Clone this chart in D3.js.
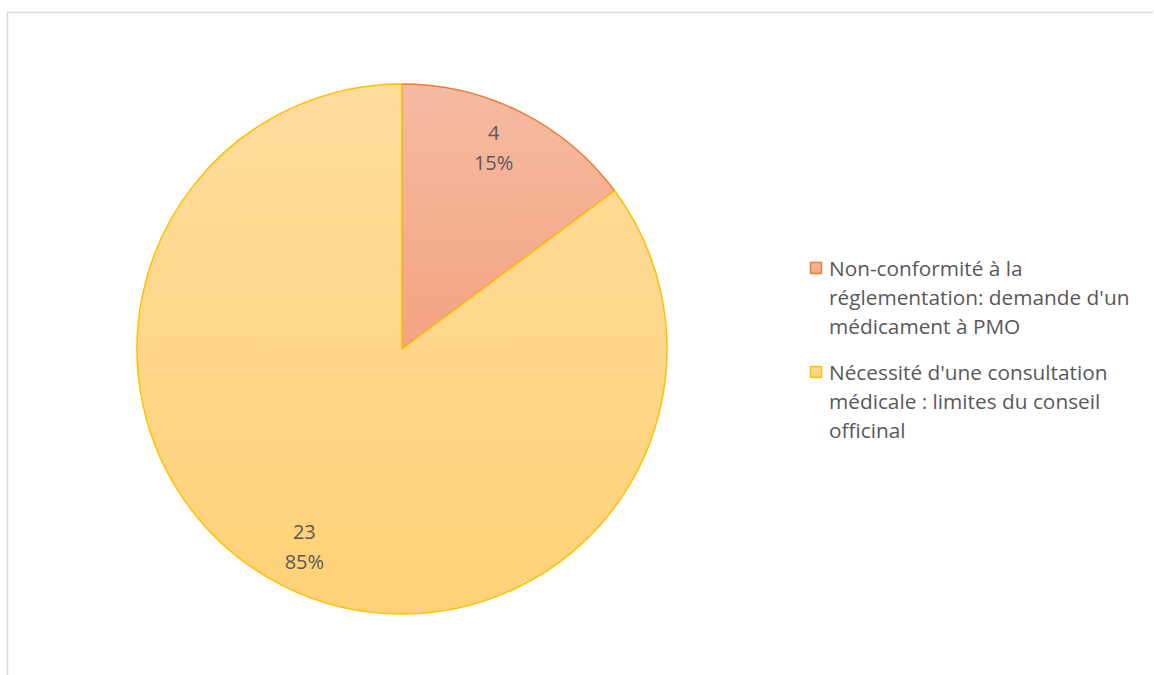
<!DOCTYPE html>
<html><head><meta charset="utf-8">
<script src="https://cdn.jsdelivr.net/npm/d3@7"></script>
<style>body{margin:0;background:#fff}svg{display:block}</style>
</head><body>
<svg id="c" width="1154" height="675"></svg>
<script>
const categories = ["Non-conformité à la réglementation: demande d'un médicament à PMO", "Nécessité d'une consultation médicale : limites du conseil officinal"];
const values = [4, 23];
const legendLines = [["Non-conformité à la", "réglementation: demande d'un", "médicament à PMO"], ["Nécessité d'une consultation", "médicale : limites du conseil", "officinal"]];
const strokes = ["#ed7d31", "#ffc000"];
const gradTop = ["#f5bba2", "#fedc9c"];
const gradBot = ["#f4a381", "#fed277"];

const svg = d3.select("#c");
const font = "'Open Sans', sans-serif";
// frame
svg.append("path").attr("d", "M7.5,675 V12.5 H1153").attr("fill", "none").attr("stroke", "#d9d9d9").attr("stroke-width", 1.5);

const defs = svg.append("defs");
values.forEach((v, i) => {
  const g = defs.append("linearGradient").attr("id", "g" + i).attr("x1", 0).attr("y1", 0).attr("x2", 0).attr("y2", 1);
  g.append("stop").attr("offset", "0%").attr("stop-color", gradTop[i]);
  g.append("stop").attr("offset", "100%").attr("stop-color", gradBot[i]);
});

const cx = 402, cy = 349, R = 265;
const total = d3.sum(values);
const pie = d3.pie().sort(null).value(d => d);
const arcs = pie(values);
const arc = d3.arc().innerRadius(0).outerRadius(R);
const g = svg.append("g").attr("transform", `translate(${cx},${cy})`);
g.selectAll("path.s").data(arcs).join("path").attr("class", "s")
  .attr("d", arc).attr("fill", (d, i) => `url(#g${i})`)
  .attr("stroke", (d, i) => strokes[i]).attr("stroke-width", 1.5).attr("stroke-linejoin", "round");

const labelDx = [-8, 2];
const labelDy = [-3, 0];
arcs.forEach((d, i) => {
  const a = (d.startAngle + d.endAngle) / 2;
  const r = 222;
  const x = r * Math.sin(a) + labelDx[i], y = -r * Math.cos(a) + labelDy[i];
  const t = g.append("text").attr("text-anchor", "middle").attr("font-family", font).attr("font-size", 20).attr("fill", "#595959");
  t.append("tspan").attr("x", x).attr("y", y - 8).text(values[i]);
  t.append("tspan").attr("x", x).attr("y", y + 22).text(d3.format(".0%")(values[i] / total));
});

// legend
const lg = svg.append("g");
const groupY = [262, 366];
legendLines.forEach((lines, i) => {
  lg.append("rect").attr("x", 810.5).attr("y", groupY[i] + 0.5).attr("width", 11).attr("height", 11)
    .attr("fill", `url(#g${i})`).attr("stroke", strokes[i]).attr("stroke-width", 1.5);
  const t = lg.append("text").attr("font-family", font).attr("font-size", 20.8).attr("fill", "#595959");
  lines.forEach((l, j) => t.append("tspan").attr("x", 829).attr("y", groupY[i] + 14 + j * 29).text(l));
});
</script>
</body></html>
